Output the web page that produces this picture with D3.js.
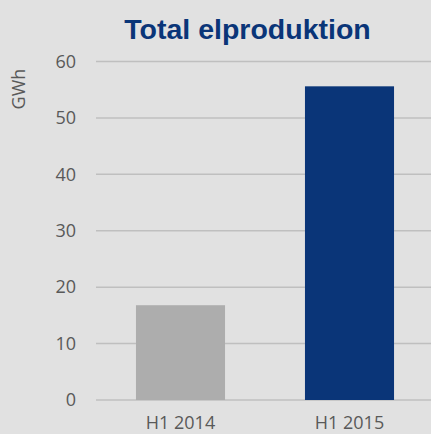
<!DOCTYPE html>
<html>
<head>
<meta charset="utf-8">
<script src="https://cdn.jsdelivr.net/npm/d3@7"></script>
<style>
  body { margin: 0; background: #e1e1e1; }
  svg { display: block; }
</style>
</head>
<body>
<div class="chart"></div>
<script>
// data
var categories = ["H1 2014", "H1 2015"];
var values = [16.8, 55.6];
var barColors = ["#adadad", "#0a3578"];
var yTicks = [0, 10, 20, 30, 40, 50, 60];

var W = 431, H = 434;
var plotLeft = 96, plotRight = 434, plotTop = 61.5, plotBottom = 400;

var svg = d3.select(".chart").append("svg")
    .attr("width", W)
    .attr("height", H);

svg.append("rect")
    .attr("width", W)
    .attr("height", H)
    .attr("fill", "#e1e1e1");

// scales
var x = d3.scaleBand()
    .domain(categories)
    .range([plotLeft, plotRight])
    .paddingInner(0.473)
    .paddingOuter(0.2365);
var y = d3.scaleLinear()
    .domain([0, 60])
    .range([plotBottom, plotTop]);

// gridlines
svg.selectAll(".grid")
    .data(yTicks)
    .enter().append("line")
    .attr("x1", plotLeft)
    .attr("x2", W)
    .attr("y1", function(d) { return y(d); })
    .attr("y2", function(d) { return y(d); })
    .attr("stroke", "#bfbfbf")
    .attr("stroke-width", 1.5);

// bars
svg.selectAll(".bar")
    .data(values)
    .enter().append("rect")
    .attr("x", function(d, i) { return x(categories[i]); })
    .attr("width", x.bandwidth())
    .attr("y", function(d) { return y(d); })
    .attr("height", function(d) { return y(0) - y(d); })
    .attr("fill", function(d, i) { return barColors[i]; });

// y axis labels
var yAxis = svg.append("g")
    .attr("transform", "translate(" + plotLeft + ",0)")
    .call(d3.axisLeft(y).tickValues(yTicks).tickSize(0).tickPadding(20));
yAxis.select(".domain").remove();
yAxis.selectAll("text")
    .attr("font-family", "Open Sans")
    .attr("font-size", 18)
    .attr("fill", "#595959");

// x axis labels (nudged up slightly so they are not clipped)
var xAxis = svg.append("g")
    .attr("transform", "translate(0," + plotBottom + ")")
    .call(d3.axisBottom(x).tickSize(0).tickPadding(16));
xAxis.select(".domain").remove();
xAxis.selectAll("text")
    .attr("font-family", "Open Sans")
    .attr("font-size", 18)
    .attr("fill", "#595959");

// y axis title
svg.append("text")
    .attr("transform", "translate(25,89) rotate(-90)")
    .attr("text-anchor", "middle")
    .attr("font-family", "Open Sans")
    .attr("font-size", 18)
    .attr("fill", "#595959")
    .text("GWh");

// title
svg.append("text")
    .attr("x", 247.5)
    .attr("y", 39)
    .attr("text-anchor", "middle")
    .attr("font-family", "Liberation Sans, Arial")
    .attr("font-weight", "bold")
    .attr("font-size", 28.5)
    .attr("fill", "#0a3578")
    .text("Total elproduktion");
</script>
</body>
</html>
